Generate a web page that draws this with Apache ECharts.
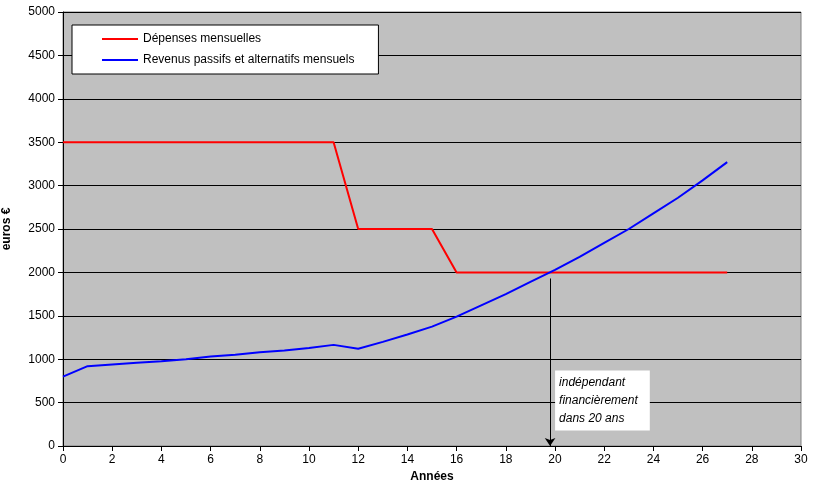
<!DOCTYPE html>
<html><head><meta charset="utf-8">
<script src="https://cdn.jsdelivr.net/npm/echarts@6/dist/echarts.min.js"></script>
<style>html,body{margin:0;padding:0;background:#fff}#c{width:818px;height:492px}</style>
</head><body><div id="c"></div>
<script>
const years = [0,1,2,3,4,5,6,7,8,9,10,11,12,13,14,15,16,17,18,19,20,21,22,23,24,25,26,27];
const depenses = [3500,3500,3500,3500,3500,3500,3500,3500,3500,3500,3500,3500,2500,2500,2500,2500,2000,2000,2000,2000,2000,2000,2000,2000,2000,2000,2000,2000];
const revenus = [800,920,940,960,975,1000,1030,1050,1080,1100,1130,1165,1120,1200,1285,1375,1490,1620,1750,1890,2030,2180,2340,2500,2680,2860,3060,3270];
const arrowX = 19.8, arrowTop = 1930;
const F = 'Liberation Sans, Arial, sans-serif';
const chart = echarts.init(document.getElementById('c'));
chart.setOption({
  animation:false,
  grid:{left:63,right:17,top:12,bottom:46,containLabel:false,outerBoundsMode:'none',show:true,backgroundColor:'#c0c0c0',borderColor:'#808080',borderWidth:1},
  legend:{left:72,top:25,orient:'vertical',itemWidth:36,itemHeight:2,itemGap:9,padding:[8,24,8,30],
    backgroundColor:'#fff',borderColor:'#000',borderWidth:1,
    textStyle:{fontFamily:F,fontSize:12,color:'#000'},icon:'rect',
    data:['Dépenses mensuelles','Revenus passifs et alternatifs mensuels']},
  xAxis:{type:'value',min:0,max:30,interval:2,name:'Années',nameLocation:'middle',nameGap:24,
    nameTextStyle:{fontFamily:F,fontWeight:'bold',fontSize:12,color:'#000'},
    axisLine:{lineStyle:{color:'#000'}},axisTick:{lineStyle:{color:'#000'}},
    axisLabel:{fontFamily:F,fontSize:12,color:'#000',formatter:v=>String(v)},splitLine:{show:false}},
  yAxis:{type:'value',min:0,max:5000,interval:500,name:'euros €',nameLocation:'middle',nameGap:50,
    nameTextStyle:{fontFamily:F,fontWeight:'bold',fontSize:12,color:'#000'},
    axisLine:{show:true,lineStyle:{color:'#000'}},axisTick:{show:true,lineStyle:{color:'#000'}},
    axisLabel:{fontFamily:F,fontSize:12,color:'#000',formatter:v=>String(v)},splitLine:{lineStyle:{color:'#000',width:1}}},
  series:[
    {name:'Dépenses mensuelles',type:'line',data:years.map((x,i)=>[x,depenses[i]]),showSymbol:false,
     lineStyle:{color:'#ff0000',width:2},itemStyle:{color:'#ff0000'}},
    {name:'Revenus passifs et alternatifs mensuels',type:'line',data:years.map((x,i)=>[x,revenus[i]]),showSymbol:false,
     lineStyle:{color:'#0000ff',width:2},itemStyle:{color:'#0000ff'},
     markLine:{silent:true,symbol:['none','arrow'],symbolSize:8,label:{show:false},
       lineStyle:{color:'#000',width:1,type:'solid'},
       data:[[{coord:[arrowX,arrowTop]},{coord:[arrowX,0]}]]}}
  ]
});
const p = chart.convertToPixel({gridIndex:0},[arrowX,870]);
chart.setOption({graphic:[{type:'text',left:p[0]+5,top:p[1],z:100,
  style:{text:'indépendant\nfinancièrement\ndans 20 ans',fontFamily:F,fontSize:12,fontStyle:'italic',
  fill:'#000',lineHeight:18,backgroundColor:'#fff',padding:[3,12,3,4]}}]});
</script></body></html>
